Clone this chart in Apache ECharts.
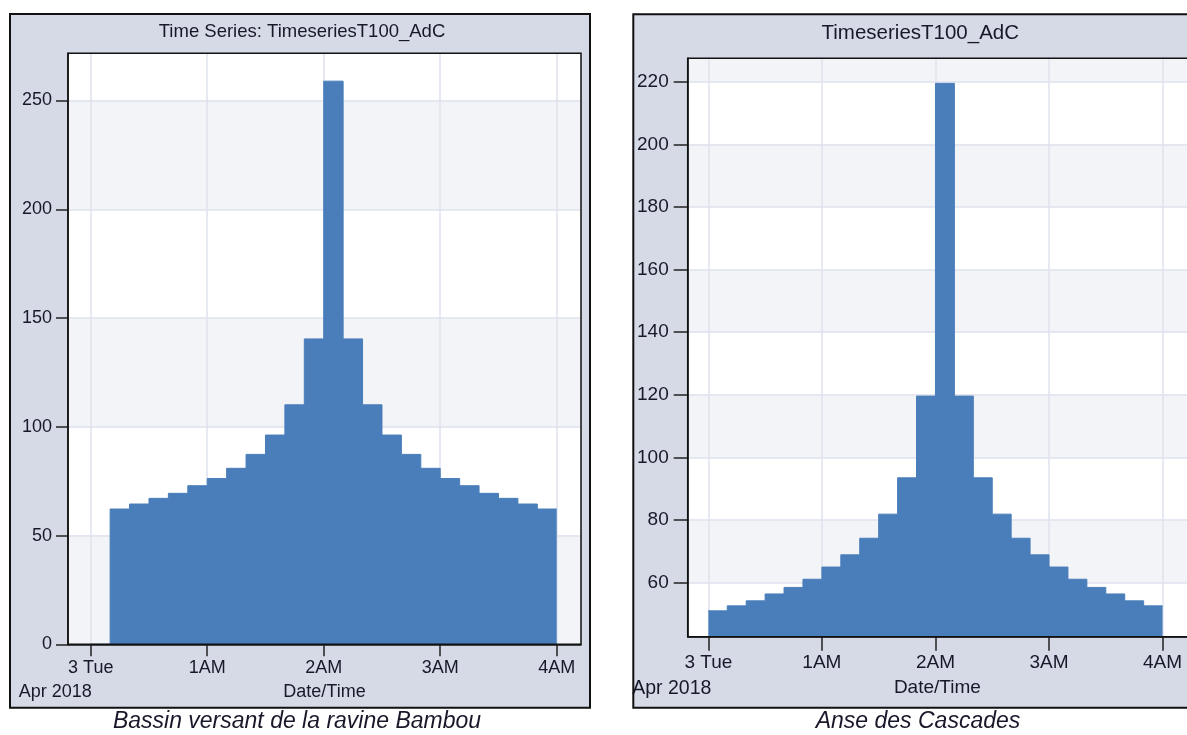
<!DOCTYPE html>
<html>
<head>
<meta charset="utf-8">
<script src="https://cdn.jsdelivr.net/npm/echarts@6/dist/echarts.min.js"></script>
<style>
html,body{margin:0;padding:0;background:#ffffff;overflow:hidden}
#c{width:1187px;height:735px}
</style>
</head>
<body>
<div id="c"></div>
<script>
// ---------- DATA ----------
// left chart: Bassin versant de la ravine Bambou (10-minute steps, value holds from start time)
const timesLeft = ['00:00','00:10','00:20','00:30','00:40','00:50','01:00','01:10','01:20','01:30','01:40','01:50',
                   '02:00','02:10','02:20','02:30','02:40','02:50','03:00','03:10','03:20','03:30','03:40','03:50'];
const valuesLeft = [0, 62.2, 64.5, 67.1, 69.4, 72.9, 76.2, 80.9, 87.3, 96.2, 110.1, 140.4,
                    258.9, 140.4, 110.1, 96.2, 87.3, 80.9, 76.2, 72.9, 69.4, 67.1, 64.5, 62.2];
// right chart: Anse des Cascades
const timesRight = ['00:00','00:10','00:20','00:30','00:40','00:50','01:00','01:10','01:20','01:30','01:40','01:50',
                    '02:00','02:10','02:20','02:30','02:40','02:50','03:00','03:10','03:20','03:30','03:40','03:50'];
const valuesRight = [51.0, 52.6, 54.2, 56.4, 58.5, 61.1, 65.0, 68.9, 74.2, 81.9, 93.5, 119.6,
                     219.5, 119.6, 93.5, 81.9, 74.2, 68.9, 65.0, 61.1, 58.5, 56.4, 54.2, 52.6];
const endTime = '04:00';
const xTickMinutes = [0, 60, 120, 180, 240];
const xTickLabels = ['3 Tue', '1AM', '2AM', '3AM', '4AM'];
const yTicksLeft = [0, 50, 100, 150, 200, 250];
const yTicksRight = [60, 80, 100, 120, 140, 160, 180, 200, 220];
const titleLeft = 'Time Series: TimeseriesT100_AdC';
const titleRight = 'TimeseriesT100_AdC';
const captionLeft = 'Bassin versant de la ravine Bambou';
const captionRight = 'Anse des Cascades';
const dateLabel = 'Apr 2018';
const xName = 'Date/Time';

// ---------- STYLE / LAYOUT ----------
const FONT = '"Liberation Sans", Arial, Helvetica, sans-serif';
const TXT = '#18182a';
const BLUE = '#4a7eba';
const PANEL = '#d5dae6';
const BAND = '#f3f4f8';
const GRIDLINE = '#dfe2ee';

const axL = { xMin: -11.7, xMax: 252.5, yMin: 0, yMax: 271.7 };
const axR = { xMin: -10.9, xMax: 252.9, yMin: 42.75, yMax: 227.5 };
const gL = { left: 68, top: 53.3, width: 513, height: 591 };
const gR = { left: 687.7, top: 58.3, width: 510, height: 578.4 };
const pL = { x: 10, y: 14, w: 580, h: 693.7 };
const pR = { x: 633.3, y: 14.3, w: 574, h: 693.4 };

const toMin = s => { const p = s.split(':').map(Number); return p[0] * 60 + p[1]; };
const stepData = (times, vals, end) =>
  times.map((t, i) => [toMin(t), vals[i]]).concat([[toMin(end), vals[vals.length - 1]]]);

function xAxis(gi, ax, fs, margin, tickLen, nameGap) {
  return {
    type: 'value', gridIndex: gi, min: ax.xMin, max: ax.xMax, z: 1,
    axisLine: { show: true, onZero: false, lineStyle: { color: '#111', width: 1.5 } },
    axisTick: { show: true, length: tickLen, customValues: xTickMinutes, lineStyle: { color: '#222', width: 1.5 } },
    axisLabel: {
      customValues: xTickMinutes,
      formatter: v => { const i = xTickMinutes.indexOf(v); return i >= 0 ? xTickLabels[i] : ''; },
      fontSize: fs, fontFamily: FONT, color: TXT, margin: margin
    },
    splitLine: { show: true, lineStyle: { color: GRIDLINE, width: 1.5 } },
    splitArea: { show: false },
    name: xName, nameLocation: 'middle', nameGap: nameGap,
    nameTextStyle: { fontSize: fs, fontFamily: FONT, color: TXT }
  };
}
function yAxisMain(gi, ax, ticks, fs, margin, tickLen) {
  return {
    type: 'value', gridIndex: gi, min: ax.yMin, max: ax.yMax, z: 1, position: 'left',
    axisLine: { show: true, onZero: false, lineStyle: { color: '#111', width: 1.5 } },
    axisTick: { show: true, length: tickLen, customValues: ticks, lineStyle: { color: '#222', width: 1.5 } },
    axisLabel: { customValues: ticks, fontSize: fs, fontFamily: FONT, color: TXT, margin: margin },
    splitLine: { show: true, lineStyle: { color: GRIDLINE, width: 1.5 } },
    splitArea: { show: false }
  };
}
function yAxisBands(gi, ax, ticks, colors) {
  return {
    type: 'value', gridIndex: gi, min: ax.yMin, max: ax.yMax, z: 0, position: 'right',
    axisLine: { show: false }, axisLabel: { show: false },
    axisTick: { show: false, customValues: [ax.yMin].concat(ticks.filter(t => t > ax.yMin), [ax.yMax]) },
    splitLine: { show: false },
    splitArea: { show: true, areaStyle: { color: colors, opacity: 1 } }
  };
}
function stepSeries(xi, yi, data) {
  return {
    type: 'line', xAxisIndex: xi, yAxisIndex: yi, data: data, step: 'end',
    symbol: 'none', showSymbol: false, z: 2, silent: true,
    lineStyle: { color: BLUE, width: 1 },
    areaStyle: { color: BLUE, opacity: 1, origin: 'start' }
  };
}

const chart = echarts.init(document.getElementById('c'), null, { renderer: 'canvas' });
chart.setOption({
  animation: false,
  backgroundColor: '#ffffff',
  grid: [
    Object.assign({ show: false }, gL),
    Object.assign({ show: false }, gR)
  ],
  xAxis: [ xAxis(0, axL, 18, 15, 12, 39), xAxis(1, axR, 19, 17, 14, 42) ],
  yAxis: [
    yAxisMain(0, axL, yTicksLeft, 18, 16, 12),
    yAxisBands(0, axL, yTicksLeft, [BAND, '#ffffff']),
    yAxisMain(1, axR, yTicksRight, 19, 19, 14),
    yAxisBands(1, axR, yTicksRight, ['#ffffff', BAND])
  ],
  series: [
    stepSeries(0, 0, stepData(timesLeft, valuesLeft, endTime)),
    stepSeries(1, 2, stepData(timesRight, valuesRight, endTime))
  ]
});

// positions derived from the axes for the extra date label
const x0L = chart.convertToPixel({ xAxisIndex: 0 }, 0);
const y0L = chart.convertToPixel({ yAxisIndex: 0 }, axL.yMin);
const x0R = chart.convertToPixel({ xAxisIndex: 1 }, 0);
const y0R = chart.convertToPixel({ yAxisIndex: 2 }, axR.yMin);

function txt(text, x, y, font, align, z) {
  return { type: 'text', z: z || 50, silent: true,
    style: { text: text, x: x, y: y, font: font, fill: TXT,
      textAlign: align || 'center', textVerticalAlign: 'middle', align: align || 'center', verticalAlign: 'middle' } };
}
function frame(r, lw, z) {
  return { type: 'rect', z: z, silent: true, shape: { x: r.x, y: r.y, width: r.w, height: r.h },
    style: { fill: null, stroke: '#111', lineWidth: lw } };
}
chart.setOption({
  graphic: { elements: [
    { type: 'rect', z: -10, silent: true, shape: { x: pL.x, y: pL.y, width: pL.w, height: pL.h }, style: { fill: PANEL } },
    { type: 'rect', z: -10, silent: true, shape: { x: pR.x, y: pR.y, width: pR.w, height: pR.h }, style: { fill: PANEL } },
    frame(pL, 2, 90), frame(pR, 2, 90),
    frame({ x: gL.left, y: gL.top, w: gL.width, h: gL.height }, 1.5, 90),
    frame({ x: gR.left, y: gR.top, w: gR.width, h: gR.height }, 1.5, 90),
    txt(titleLeft, pL.x + pL.w / 2 + 2, 32, '18.5px ' + FONT),
    txt(titleRight, pR.x + pR.w / 2, 33.5, '20.5px ' + FONT),
    txt(dateLabel, x0L + 1, y0L + 48, '18px ' + FONT, 'right'),
    txt(dateLabel, x0R + 3, y0R + 51.6, '19.5px ' + FONT, 'right'),
    txt(captionLeft, 297, 722, 'italic 23px ' + FONT),
    txt(captionRight, 918, 722, 'italic 23px ' + FONT)
  ] }
});
</script>
</body>
</html>
